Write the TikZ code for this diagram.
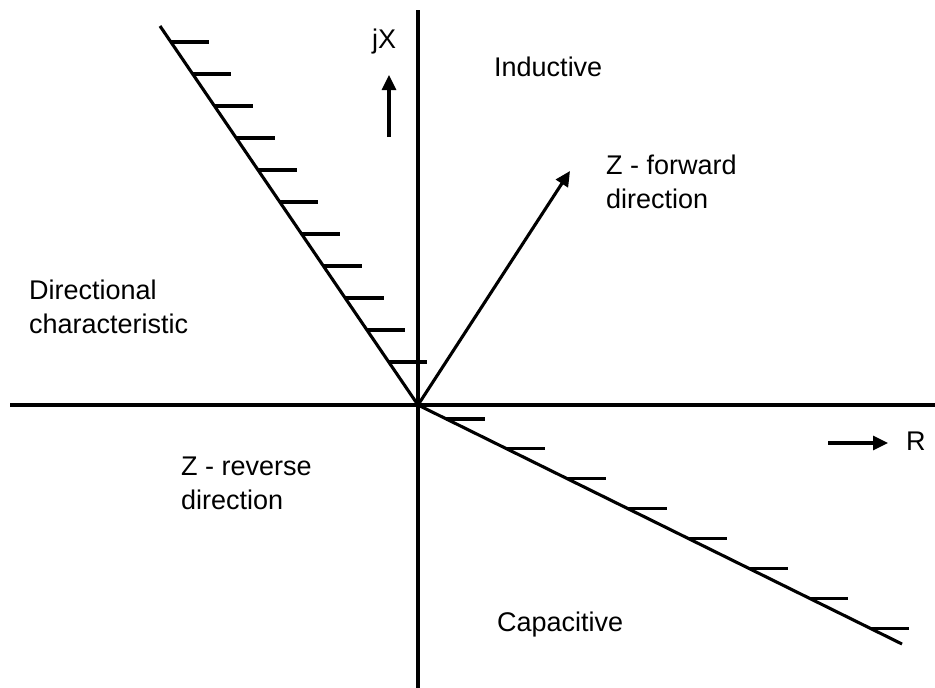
\documentclass[tikz,border=0pt]{standalone}
\usepackage{fontspec}
\setmainfont{Liberation Sans}
\usetikzlibrary{arrows.meta,calc}
\begin{document}
\begin{tikzpicture}[x=1pt,y=-1pt,
  axis/.style={line width=3.1pt},
  hatch/.style={line width=3.1pt},
  arr/.style={line width=3.1pt,-{Triangle[length=15pt,width=14pt]}},
  lbl/.style={anchor=base west,inner sep=0pt,font=\fontsize{27}{34}\selectfont,align=left}]
\useasboundingbox (0,0) rectangle (935,688);
% axes
\coordinate (O) at (418,405);
\coordinate (vt) at (418,10);
\coordinate (vb) at (418,688);
\coordinate (hl) at (10,405);
\coordinate (hr) at (935,405);
\draw[axis] (vt) -- (vb);
\draw[axis] (hl) -- (hr);
% directional characteristic lines
\coordinate (ul) at (160,26);
\coordinate (lr) at (902,644);
\draw[axis] (ul) -- (O) -- (lr);
\foreach \k in {0,...,10}{
  \pgfmathsetmacro{\t}{(16+32*\k)/379}
  \coordinate (hu\k) at ($(ul)!\t!(O)$);
  \draw[hatch] (hu\k) -- ++(38.5,0);
}
\foreach \k in {0,...,7}{
  \pgfmathsetmacro{\t}{(14+29.9*\k)/239}
  \coordinate (hd\k) at ($(O)!\t!(lr)$);
  \draw[hatch] (hd\k) -- ++(38.5,0);
}
% forward arrow
\coordinate (zf) at (570,171);
\draw[arr] (O) -- (zf);
% axis direction arrows
\coordinate (jxa) at (389,137);
\coordinate (jxb) at (389,75);
\draw[arr] (jxa) -- (jxb);
\coordinate (ra) at (828,443);
\coordinate (rb) at (888,443);
\draw[arr] (ra) -- (rb);
% labels
\node[lbl] (jx) at (372,48) {jX};
\node[lbl] (rl) at (906,450) {R};
\node[lbl] (ind) at (494,76) {Inductive};
\node[lbl] (cap) at (497,631) {Capacitive};
\node[lbl] (fwd) at (606,208) {Z - forward\\direction};
\node[lbl] (dir) at (29,333) {Directional\\characteristic};
\node[lbl] (rev) at (181,509) {Z - reverse\\direction};
\end{tikzpicture}
\end{document}
